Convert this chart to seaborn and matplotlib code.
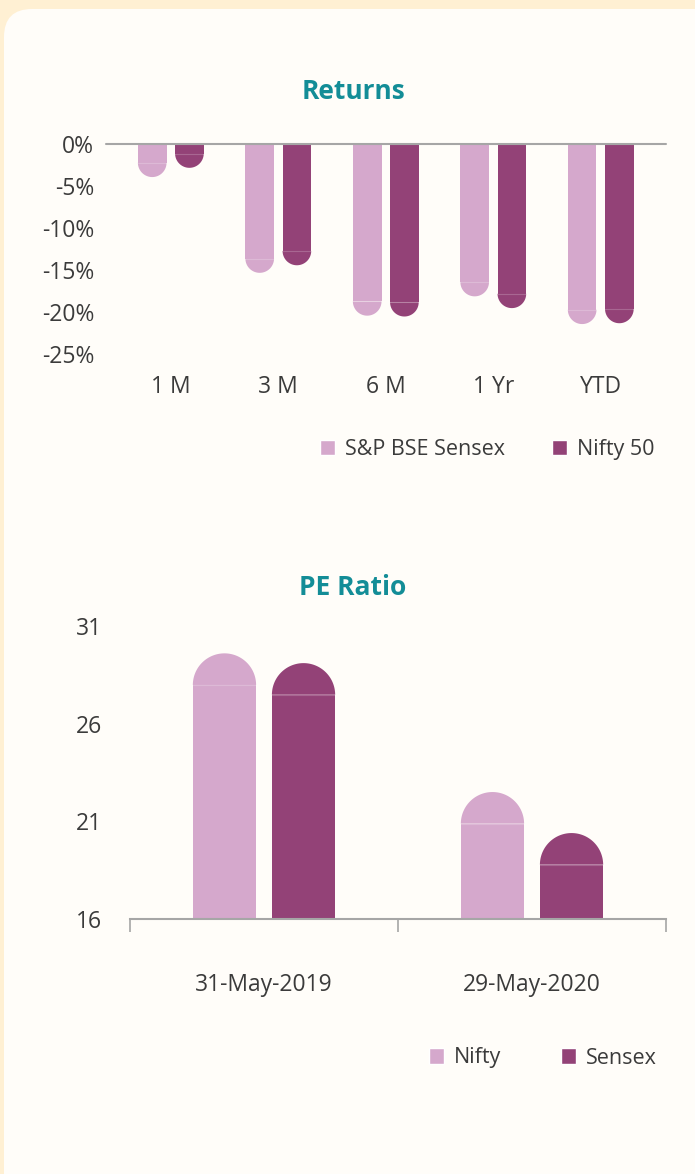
import numpy as np
import pandas as pd
import seaborn as sns
import matplotlib
matplotlib.use('Agg')
import matplotlib.pyplot as plt
from matplotlib.patches import FancyBboxPatch, Polygon, Patch
from matplotlib.transforms import IdentityTransform

# Returns (%)
periods = ['1 M', '3 M', '6 M', '1 Yr', 'YTD']
sensex_returns = [-3.9, -15.3, -20.4, -18.1, -21.4]
nifty_returns = [-2.8, -14.4, -20.5, -19.5, -21.3]
ret_series = ['S&P BSE Sensex', 'Nifty 50']
ret_ticks = [0, -5, -10, -15, -20, -25]

# PE ratio
pe_dates = ['31-May-2019', '29-May-2020']
nifty_pe = [29.6, 22.5]
sensex_pe = [29.1, 20.4]
pe_series = ['Nifty', 'Sensex']
pe_ticks = [16, 21, 26, 31]

LIGHT = '#D5A8CC'
DARK = '#934277'
TEAL = '#138D97'
GREY = '#A6A6A6'
TXT = '#3B3B3B'

ret_df = pd.DataFrame({
    'period': periods * 2,
    'value': sensex_returns + nifty_returns,
    'index': [ret_series[0]] * len(periods) + [ret_series[1]] * len(periods),
})
pe_df = pd.DataFrame({
    'date': pe_dates * 2,
    'value': nifty_pe + sensex_pe,
    'index': [pe_series[0]] * len(pe_dates) + [pe_series[1]] * len(pe_dates),
})

sns.set_style('white')
plt.rcParams['font.family'] = ['Open Sans', 'DejaVu Sans']

W, H = 695, 1174
fig = plt.figure(figsize=(W / 100, H / 100), dpi=100)
fig.patch.set_facecolor('#FFF0D3')

# white rounded card behind everything
panel = FancyBboxPatch((4, -40), 740, H - 9 + 40,
                       boxstyle='round,pad=0,rounding_size=28',
                       transform=IdentityTransform(), fc='#FFFDF9', ec='none', zorder=0)
fig.add_artist(panel)


def px_axes(l, t, r, b):
    # axes placed by pixel box (left, top, right, bottom) measured from top-left
    return fig.add_axes([l / W, 1 - b / H, (r - l) / W, (b - t) / H])


def round_caps(ax):
    # cut the end of every bar and put a half circle there instead
    for cont in ax.containers:
        for rect in cont:
            x, w = rect.get_x(), rect.get_width()
            base = rect.get_y()
            end = base + rect.get_height()
            sign = 1 if end >= base else -1
            x0, y0 = ax.transData.transform((0, 0))
            x1, y1 = ax.transData.transform((w, 1))
            r = ((x1 - x0) / 2) / (y1 - y0)
            joint = end - sign * r
            rect.set_height(joint - base)
            th = np.linspace(0, np.pi, 80)
            xs = x + w / 2 + (w / 2) * np.cos(th)
            ys = joint + sign * r * np.sin(th)
            ax.add_patch(Polygon(np.c_[xs, ys], closed=True, fc=rect.get_facecolor(),
                                 ec='none', zorder=rect.get_zorder()))
            ax.plot([x, x + w], [joint, joint], color='white', alpha=0.2, lw=0.8,
                    zorder=rect.get_zorder() + 0.1)


# ---------------- Returns ----------------
ax1 = px_axes(106, 144.3, 666, 354.3)
sns.barplot(data=ret_df, x='period', y='value', hue='index', palette=[LIGHT, DARK],
            saturation=1, width=0.692, gap=0.23, linewidth=0, legend=False, ax=ax1)
ax1.set_xlim(-0.603, 4.607)
ax1.set_ylim(-25, 0)
ax1.set_yticks(ret_ticks)
ax1.set_yticklabels([f'{t}%' for t in ret_ticks])
ax1.set_xlabel('')
ax1.set_ylabel('')
ax1.set_facecolor('none')
sns.despine(ax=ax1, left=True, bottom=True, top=True, right=True)
ax1.tick_params(axis='both', length=0, labelsize=16.5, labelcolor=TXT)
ax1.tick_params(axis='y', pad=8.5)
ax1.tick_params(axis='x', pad=15)
round_caps(ax1)
ax1.axhline(0, color=GREY, lw=1.5, zorder=5, clip_on=False)
ax1.legend(handles=[Patch(fc=LIGHT, label=ret_series[0]), Patch(fc=DARK, label=ret_series[1])],
           loc='center', bbox_to_anchor=(487 / W, 1 - 449.5 / H), bbox_transform=fig.transFigure,
           ncol=2, frameon=False, fontsize=15.5, handlelength=0.7, handleheight=0.7,
           handletextpad=0.45, columnspacing=2.2, labelcolor=TXT)
fig.text(353.7 / W, 1 - 99.3 / H, 'Returns', ha='center', va='baseline',
         fontsize=19, fontweight='bold', color=TEAL)

# ---------------- PE Ratio ----------------
ax2 = px_axes(130, 626, 666, 919)
sns.barplot(data=pe_df, x='date', y='value', hue='index', palette=[LIGHT, DARK],
            saturation=1, width=0.59, gap=0.2, linewidth=0, legend=False, ax=ax2)
ax2.set_xlim(-0.5, 1.5)
ax2.set_ylim(16, 31)
ax2.set_yticks(pe_ticks)
ax2.set_xlabel('')
ax2.set_ylabel('')
ax2.set_facecolor('none')
sns.despine(ax=ax2, left=True, top=True, right=True)
ax2.spines['bottom'].set_color(GREY)
ax2.spines['bottom'].set_linewidth(1.5)
ax2.set_xticks([-0.5, 0.5, 1.5], minor=True)
ax2.tick_params(axis='both', which='major', length=0, labelsize=16.5, labelcolor=TXT)
ax2.tick_params(axis='y', pad=20)
ax2.tick_params(axis='x', which='major', pad=39)
ax2.tick_params(axis='x', which='minor', bottom=True, length=9.5, width=1.2,
                color=GREY, direction='out')
round_caps(ax2)
ax2.legend(handles=[Patch(fc=LIGHT, label=pe_series[0]), Patch(fc=DARK, label=pe_series[1])],
           loc='center', bbox_to_anchor=(543 / W, 1 - 1058 / H), bbox_transform=fig.transFigure,
           ncol=2, frameon=False, fontsize=15.5, handlelength=0.7, handleheight=0.7,
           handletextpad=0.45, columnspacing=2.8, labelcolor=TXT)
fig.text(353 / W, 1 - 595 / H, 'PE Ratio', ha='center', va='baseline',
         fontsize=19, fontweight='bold', color=TEAL)

fig.savefig('out.png', dpi=100, facecolor=fig.get_facecolor())
